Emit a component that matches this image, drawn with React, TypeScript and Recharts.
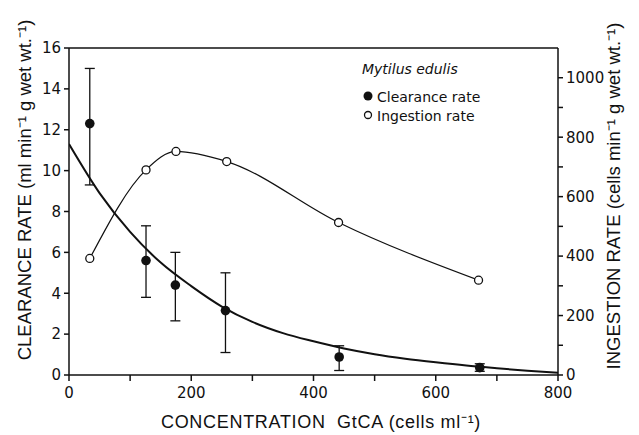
import React from "react"
import {
  ComposedChart,
  XAxis,
  YAxis,
  Line,
  Scatter,
  ErrorBar,
  ReferenceLine,
} from "recharts"

// clearance rate (ml min-1 g wet wt-1), filled circles with error bars
const clearanceX = [34, 126, 174, 256, 442, 672]
const clearanceY = [12.3, 5.6, 4.4, 3.15, 0.88, 0.36]
const clearanceHigh = [15.0, 7.3, 6.0, 5.0, 1.43, 0.55]
const clearanceLow = [9.3, 3.8, 2.65, 1.1, 0.22, 0.18]

// fitted curve through clearance data
const fitX = [0, 50, 100, 150, 200, 250, 300, 350, 400, 450, 500, 550, 600, 650, 700, 750, 800]
const fitY = [11.3, 8.9, 7.0, 5.5, 4.35, 3.35, 2.6, 2.05, 1.65, 1.3, 1.02, 0.8, 0.62, 0.46, 0.33, 0.21, 0.11]

// ingestion rate (cells min-1 g wet wt-1), open circles
const ingestionX = [34, 126, 175, 258, 441, 670]
const ingestionY = [392, 690, 752, 718, 513, 319]

const xTicks = [0, 100, 200, 300, 400, 500, 600, 700, 800]
const leftTicks = [0, 2, 4, 6, 8, 10, 12, 14, 16]
const rightTicks = [0, 100, 200, 300, 400, 500, 600, 700, 800, 900, 1000]

const clearance = clearanceX.map((x, i) => ({
  x,
  y: clearanceY[i],
  err: [clearanceY[i] - clearanceLow[i], clearanceHigh[i] - clearanceY[i]],
}))
const fit = fitX.map((x, i) => ({ x, y: fitY[i] }))
const ingestion = ingestionX.map((x, i) => ({ x, y: ingestionY[i] }))

const FONT = "'DejaVu Sans', sans-serif"
const TITLE_FONT = "'Liberation Sans', Arial, sans-serif"
const INK = "#111"

const LegendBox = () => (
  <div
    style={{
      position: "absolute",
      left: 362,
      top: 60,
      fontFamily: FONT,
      fontSize: 14,
      color: INK,
      lineHeight: "19px",
    }}
  >
    <div style={{ fontStyle: "italic", marginBottom: 9 }}>Mytilus edulis</div>
    <div>
      <svg width={12} height={12} style={{ marginRight: 3 }}>
        <circle cx={6} cy={6} r={4.5} fill={INK} />
      </svg>
      Clearance rate
    </div>
    <div>
      <svg width={12} height={12} style={{ marginRight: 3 }}>
        <circle cx={6} cy={6} r={3.5} fill="#fff" stroke={INK} strokeWidth={1.3} />
      </svg>
      Ingestion rate
    </div>
  </div>
)

const VerticalTitle = ({ cx, cy, text }: { cx: number; cy: number; text: string }) => (
  <text
    x={cx}
    y={cy}
    transform={`rotate(-90, ${cx}, ${cy})`}
    textAnchor="middle"
    dominantBaseline="middle"
    fontFamily={TITLE_FONT}
    fontSize={18.5}
    fill={INK}
  >
    {text}
  </text>
)

const LeftTitle = () => (
  <VerticalTitle cx={26} cy={190} text="CLEARANCE RATE (ml min⁻¹ g wet wt.⁻¹)" />
)

const RightTitle = () => (
  <VerticalTitle cx={615} cy={196} text="INGESTION RATE (cells min⁻¹ g wet wt.⁻¹)" />
)

const BottomTitle = () => (
  <text
    x={321}
    y={423}
    textAnchor="middle"
    dominantBaseline="middle"
    fontFamily={TITLE_FONT}
    fontSize={18}
    letterSpacing={0.7}
    fill={INK}
    style={{ whiteSpace: "pre" }}
  >
    {"CONCENTRATION  GtCA (cells ml⁻¹)"}
  </text>
)

const OpenDot = (props: any) => {
  const { cx, cy } = props
  return <circle cx={cx} cy={cy} r={4} fill="#fff" stroke={INK} strokeWidth={1.3} />
}

const FilledDot = (props: any) => {
  const { cx, cy } = props
  return <circle cx={cx} cy={cy} r={4.8} fill={INK} />
}

const tickStyle = { fontFamily: FONT, fontSize: 15, fill: INK }

export default function App() {
  return (
    <div style={{ position: "absolute", left: 0, top: 0, width: 639, height: 435, background: "#fff" }}>
      <ComposedChart
        width={639}
        height={435}
        margin={{ top: 48, right: 0, bottom: 0, left: 0 }}
      >
        <XAxis
          dataKey="x"
          type="number"
          domain={[0, 800]}
          ticks={xTicks}
          tickFormatter={(v: number) => (v % 200 === 0 ? String(v) : "")}
          height={60}
          tick={tickStyle}
          tickSize={6}
          tickMargin={6}
          stroke={INK}
          strokeWidth={1.5}
          allowDataOverflow
          label={<BottomTitle />}
        />
        <YAxis
          yAxisId="left"
          type="number"
          domain={[0, 16]}
          ticks={leftTicks}
          width={69}
          tick={tickStyle}
          tickSize={5}
          tickMargin={3}
          stroke={INK}
          strokeWidth={1.5}
          label={<LeftTitle />}
        />
        <YAxis
          yAxisId="right"
          orientation="right"
          type="number"
          domain={[0, 1100]}
          ticks={rightTicks}
          tickFormatter={(v: number) => (v % 200 === 0 ? String(v) : "")}
          width={81}
          tick={tickStyle}
          tickSize={5}
          tickMargin={3}
          stroke={INK}
          strokeWidth={1.5}
          allowDataOverflow
          label={<RightTitle />}
        />
        <ReferenceLine yAxisId="left" y={16} stroke={INK} strokeWidth={1.5} ifOverflow="visible" />
        <Line
          yAxisId="left"
          data={fit}
          dataKey="y"
          type="monotone"
          stroke={INK}
          strokeWidth={2}
          dot={false}
          activeDot={false}
          isAnimationActive={false}
        />
        <Line
          yAxisId="right"
          data={ingestion}
          dataKey="y"
          type="monotone"
          stroke={INK}
          strokeWidth={1.2}
          dot={<OpenDot />}
          activeDot={false}
          isAnimationActive={false}
        />
        <Scatter
          yAxisId="left"
          data={clearance}
          dataKey="y"
          shape={<FilledDot />}
          isAnimationActive={false}
        >
          <ErrorBar dataKey="err" direction="y" width={5} stroke={INK} strokeWidth={1.3} isAnimationActive={false} />
        </Scatter>
      </ComposedChart>
      <LegendBox />
    </div>
  )
}
